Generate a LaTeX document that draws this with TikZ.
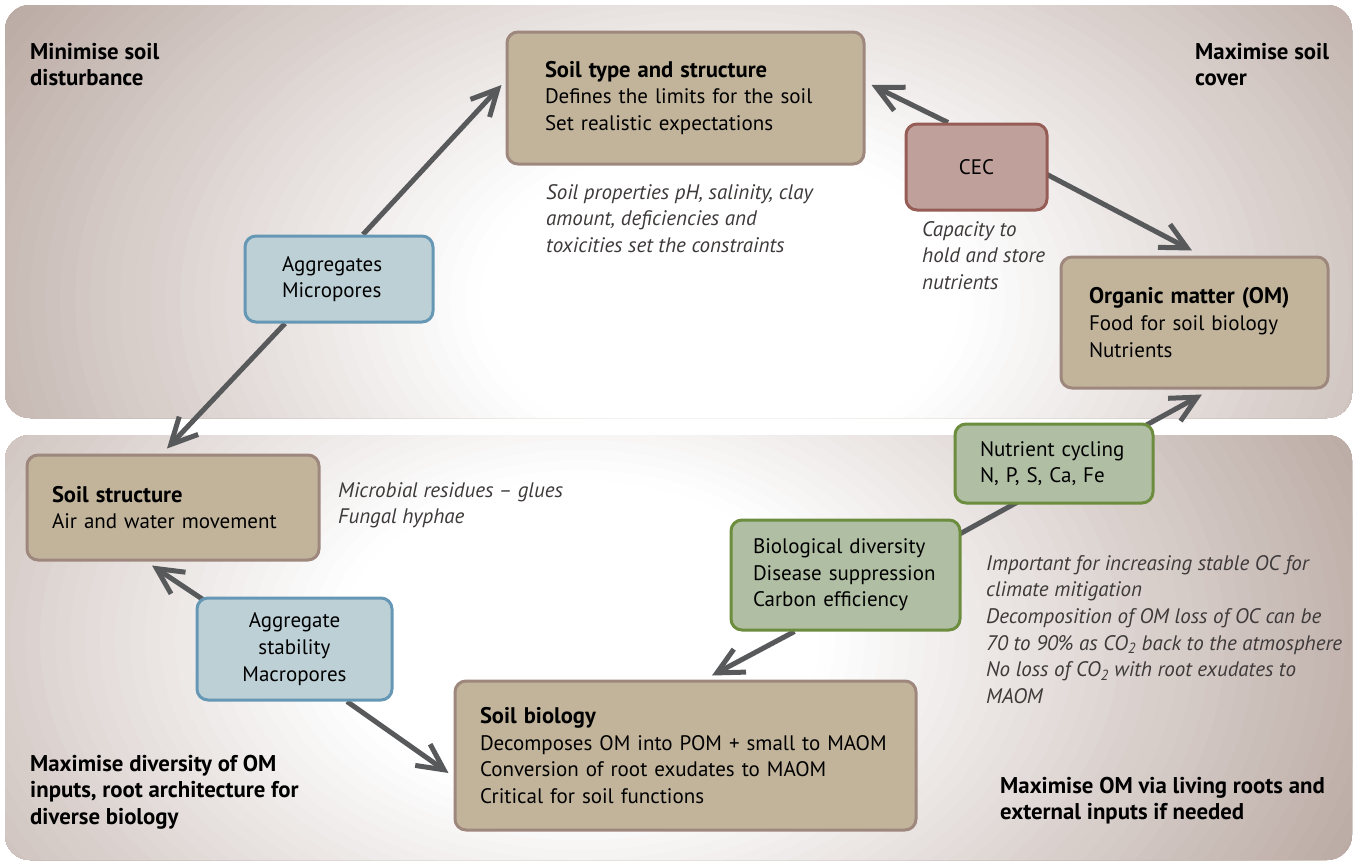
\documentclass[tikz,border=0pt]{standalone}
\usepackage{fontspec}
\setmainfont{PT Sans}
\usetikzlibrary{arrows.meta,calc}
\definecolor{pbrown}{RGB}{180,162,155}
\definecolor{tanfill}{RGB}{194,180,155}
\definecolor{tanline}{RGB}{158,135,125}
\definecolor{cecfill}{RGB}{192,160,155}
\definecolor{cecline}{RGB}{150,92,86}
\definecolor{bluefill}{RGB}{188,208,214}
\definecolor{blueline}{RGB}{102,152,182}
\definecolor{greenfill}{RGB}{176,190,164}
\definecolor{greenline}{RGB}{108,140,62}
\definecolor{arrgray}{RGB}{88,89,91}
\definecolor{notegray}{RGB}{62,58,58}
\newcommand\ttl[1]{{\fontsize{22.6}{26.7}\selectfont\bfseries #1}}
\pgfdeclarelayer{panel}
\pgfdeclarelayer{bg}
\pgfsetlayers{panel,bg,main}
\begin{document}
\begin{tikzpicture}[x=1pt,y=-1pt,
  every node/.style={font=\fontsize{21}{26.7}\selectfont},
  box/.style={line width=3pt, rounded corners=11pt, inner ysep=0pt, align=left},
  tanbox/.style={box, fill=tanfill, draw=tanline},
  cecbox/.style={box, fill=cecfill, draw=cecline, align=center},
  bluebox/.style={box, fill=bluefill, draw=blueline},
  greenbox/.style={box, fill=greenfill, draw=greenline},
  arr/.style={draw=arrgray, line width=5pt, -{Straight Barb[length=26pt,width=26pt,line width=5pt]}},
  link/.style={draw=arrgray, line width=5pt},
  note/.style={font=\fontsize{21}{26.7}\selectfont\itshape, text=notegray, align=left, inner sep=0pt, anchor=base west},
  tip/.style={font=\fontsize{22.8}{26.7}\selectfont\bfseries, align=left, inner sep=0pt, anchor=base west}]
\useasboundingbox (0,0) rectangle (1358,863);
\begin{pgfonlayer}{panel}
\fill[white] (0,0) rectangle (1358,863);
\begin{scope}
\clip[rounded corners=25pt] (5,5) rectangle (1352,418);
\fill[pbrown] (5,5) rectangle (1352,418);
\foreach \i in {60,59,...,1}{
  \pgfmathsetmacro\p{max(0,min(100,(\i/60-0.28)/0.72*100))}
  \fill[pbrown!\p!white] (720,300) ellipse [x radius={15*\i*1pt}, y radius={10*\i*1pt}];
}
\end{scope}
\begin{scope}
\clip[rounded corners=25pt] (5,435) rectangle (1352,860);
\fill[pbrown] (5,435) rectangle (1352,860);
\foreach \i in {60,59,...,1}{
  \pgfmathsetmacro\p{max(0,min(100,(\i/60-0.28)/0.72*100))}
  \fill[pbrown!\p!white] (580,640) ellipse [x radius={15*\i*1pt}, y radius={10*\i*1pt}];
}
\end{scope}
\end{pgfonlayer}

\node[tanbox, minimum width=357pt, minimum height=132pt, text width=281pt, inner xsep=38pt] (soiltype) at (685.5,98)
  {\ttl{Soil type and structure}\\Defines the limits for the soil\\Set realistic expectations};
\node[cecbox, minimum width=141pt, minimum height=86pt, text width=121pt, inner xsep=10pt] (cec) at (976.5,167) {CEC};
\node[tanbox, minimum width=267pt, minimum height=131pt, text width=211pt, inner xsep=28pt] (om) at (1194.5,322.5)
  {\ttl{Organic matter (OM)}\\Food for soil biology\\Nutrients};
\node[bluebox, minimum width=188pt, minimum height=86pt, text width=114pt, inner xsep=37pt] (agg) at (339,279)
  {Aggregates\\Micropores};
\node[tanbox, minimum width=292pt, minimum height=105pt, text width=242pt, inner xsep=25pt] (soilstruct) at (173,507.5)
  {\ttl{Soil structure}\\Air and water movement};
\node[bluebox, align=center, minimum width=195pt, minimum height=102pt, text width=175pt, inner xsep=10pt] (aggstab) at (294.5,649)
  {Aggregate\\stability\\Macropores};
\node[greenbox, minimum width=229pt, minimum height=110pt, text width=185pt, inner xsep=22pt] (bio) at (845.5,575)
  {Biological diversity\\Disease suppression\\Carbon efficiency};
\node[greenbox, minimum width=198pt, minimum height=79pt, text width=148pt, inner xsep=25pt] (nc) at (1054,463.5)
  {Nutrient cycling\\N, P, S, Ca, Fe};
\node[tanbox, minimum width=461pt, minimum height=149pt, text width=411pt, inner xsep=25pt] (soilbio) at (685.5,755.5)
  {\ttl{Soil biology}\\Decomposes OM into POM + small to MAOM\\Conversion of root exudates to MAOM\\Critical for soil functions};

\node[tip] (t1) at (30,85.7) {Minimise soil\\disturbance};
\node[tip] (t2) at (1195,85.7) {Maximise soil\\cover};
\node[tip] (t3) at (30,824.4) {Maximise diversity of OM\\inputs, root architecture for\\diverse biology};
\node[tip] (t4) at (1000,819.7) {Maximise OM via living roots and\\external inputs if needed};

\node[note] (n1) at (546,252.4) {Soil properties pH, salinity, clay\\amount, deficiencies and\\toxicities set the constraints};
\node[note] (n2) at (922,289.4) {Capacity to\\hold and store\\nutrients};
\node[note] (n3) at (338,523.7) {Microbial residues – glues\\Fungal hyphae};
\node[note] (n4) at (986,703.5) {Important for increasing stable OC for\\climate mitigation\\Decomposition of OM loss of OC can be\\70 to 90\% as CO\textsubscript{2} back to the atmosphere\\No loss of CO\textsubscript{2} with root exudates to\\MAOM};

\begin{pgfonlayer}{bg}
\draw[arr] ([shift={(24,0)}]agg.north) -- ([shift={(-4,-13)}]soiltype.west);
\draw[arr] ([shift={(-54,0)}]agg.south) -- ([shift={(-6,-5)}]soilstruct.north);
\draw[arr] ([shift={(-28.5,0)}]cec.north) -- ([shift={(6,-13)}]soiltype.east);
\draw[arr] ([shift={(-10,3)}]cec.east) -- ([shift={(-2.5,-5)}]om.north);
\draw[arr] ([shift={(86,6)}]nc.north) -- ([shift={(7.5,5)}]om.south);
\draw[link] ([shift={(-10,20)}]bio.north east) -- ([shift={(-30,-6)}]nc.south);
\draw[arr] ([shift={(-51,0)}]bio.south) -- ([shift={(26.5,-4)}]soilbio.north);
\draw[arr] ([shift={(18,10)}]aggstab.north west) -- ([shift={(-21,4)}]soilstruct.south);
\draw[arr] ([shift={(52.5,0)}]aggstab.south) -- ([shift={(-5,17.5)}]soilbio.west);
\end{pgfonlayer}
\end{tikzpicture}
\end{document}
